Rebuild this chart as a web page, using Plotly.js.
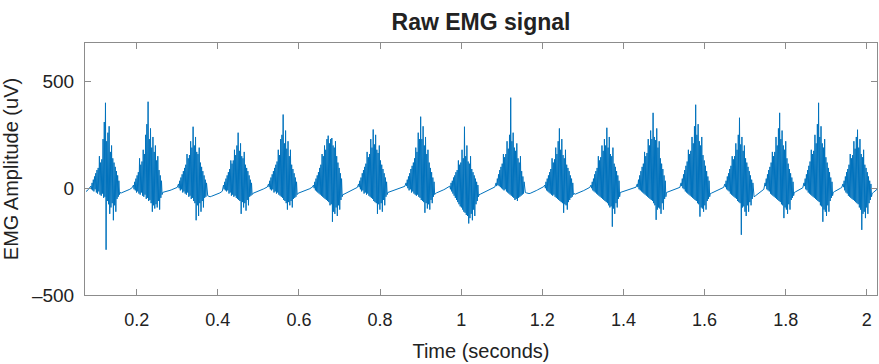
<!DOCTYPE html>
<html>
<head>
<meta charset="utf-8">
<script src="https://cdn.plot.ly/plotly-3.0.1.min.js"></script>
<style>
html,body{margin:0;padding:0;background:#fff;}
#chart{width:879px;height:364px;}
</style>
</head>
<body>
<div id="chart"></div>
<script>
// Sampling of the recording (seconds)
const startTime = 0.075;
const quietStep = 0.003;   // spacing of samples in quiet stretches
const burstStep = 0.0015;  // spacing of samples inside muscle bursts

// Amplitude samples (uV), in time order:
// quiet stretches (lead, q..) and muscle bursts (b..)
const lead = [-15, -12, -5, 5];
const b01 = [10, -5, 25, -10, 40, -15, 55, -5, 70, -20, 85, -25, 95, -15, 150, -30, 120, -35, 135, -25, 230, -45, 310, -40, 400, -288, 220, -60, 260, -75, 290, -120, 170, -90, 200, -70, 140, -150, 120, -80, 100, -110, 80, -50, 60, -40, 35, -30];
const q01 = [-20, -22, -20, -18, -16, -14, -12, -9, -5, -1, 3];
const b02 = [15, -5, 30, -10, 45, -20, 60, -15, 75, -25, 140, -30, 110, -20, 125, -35, 180, -40, 160, -30, 250, -50, 300, -45, 405, -60, 230, -55, 280, -70, 190, -110, 240, -80, 170, -95, 200, -75, 130, -90, 150, -60, 85, -100, 60, -45, 35, -30];
const q02 = [-20, -18, -17, -15, -14, -12, -10, -8, -6, -4, -2, 1, 4];
const b03 = [20, 0, 35, -10, 50, -5, 65, -20, 80, -15, 95, -25, 110, -30, 160, -20, 140, -40, 155, -35, 220, -50, 190, -45, 288, -60, 200, -70, 240, -150, 170, -80, 160, -130, 190, -70, 120, -110, 100, -60, 80, -90, 60, -45, 40, -40, 25, -35];
const q03 = [-35, -38, -40, -38, -36, -35, -33, -30, -28, -25, -22, -18, -14];
const b04 = [15, -5, 30, -10, 45, -15, 60, -10, 75, -25, 90, -20, 130, -35, 115, -30, 130, -40, 180, -35, 155, -45, 200, -50, 260, -55, 175, -60, 210, -120, 150, -65, 140, -90, 170, -70, 110, -105, 95, -55, 80, -80, 60, -40, 40, -35, 25, -30];
const q04 = [-25, -22, -20, -18, -15, -12, -10, -8, -6, -3, 0, 3, 6];
const b05 = [20, 5, 35, -5, 50, -10, 65, -5, 80, -20, 95, -15, 110, -25, 125, -20, 180, -30, 155, -35, 230, -40, 250, -45, 345, -55, 210, -60, 270, -70, 185, -100, 220, -65, 150, -80, 180, -60, 110, -90, 90, -50, 70, -45, 50, -40, 30, -30];
const q05 = [-25, -22, -20, -18, -17, -15, -12, -10, -8, -5, -2, 2, 5];
const b06 = [15, 0, 30, -10, 45, -15, 60, -20, 75, -25, 95, -30, 110, -35, 160, -40, 150, -45, 200, -50, 180, -55, 230, -60, 246, -65, 210, -80, 230, -75, 235, -157, 200, -110, 190, -120, 220, -90, 150, -130, 120, -80, 95, -100, 70, -55, 45, -40];
const q06 = [-30, -28, -25, -22, -20, -18, -15, -12, -10, -6, -3, 0, 4];
const b07 = [20, 5, 35, -5, 50, -15, 70, -10, 85, -25, 100, -20, 115, -30, 170, -25, 145, -35, 160, -40, 230, -45, 190, -50, 275, -60, 205, -65, 250, -70, 180, -120, 165, -75, 200, -100, 130, -70, 110, -110, 90, -55, 70, -80, 50, -40, 30, -30];
const q07 = [-20, -18, -16, -15, -13, -12, -10, -8, -6, -4, -2, 0, 3, 6, 9];
const b08 = [25, 10, 40, 0, 55, -10, 70, -5, 90, -20, 105, -15, 120, -25, 140, -30, 190, -35, 170, -30, 260, -40, 230, -45, 335, -55, 230, -60, 290, -65, 200, -115, 240, -70, 160, -95, 180, -75, 120, -100, 95, -55, 75, -70, 50, -40, 30, -30];
const q08 = [-25, -22, -20, -17, -15, -12, -10, -7, -4, -1, 2, 5];
const b09 = [10, -5, 25, -15, 35, -25, 50, -35, 60, -45, 75, -55, 85, -65, 130, -75, 110, -85, 120, -90, 180, -100, 140, -110, 288, -115, 150, -125, 200, -130, 125, -165, 115, -140, 150, -120, 90, -150, 75, -100, 60, -130, 45, -75, 30, -60, 15, -40];
const q09 = [-30, -28, -25, -23, -20, -18, -15, -12, -10, -7, -4, -1, 3, 6];
const b10 = [25, 10, 45, 15, 65, 10, 85, 5, 100, 0, 115, -5, 160, -10, 145, -5, 160, -15, 220, -20, 185, -25, 250, -30, 424, -35, 220, -40, 260, -45, 190, -55, 175, -50, 210, -60, 140, -45, 120, -40, 150, -35, 80, -30, 55, -25, 30, -20];
const q10 = [-20, -22, -24, -25, -24, -22, -20, -17, -14, -11, -8, -5, -2, 1, 4, 7];
const b11 = [15, 0, 30, -10, 45, -15, 60, -20, 75, -25, 90, -30, 140, -35, 120, -30, 135, -40, 190, -45, 160, -50, 220, -55, 280, -60, 180, -65, 230, -70, 155, -115, 140, -75, 180, -80, 110, -100, 95, -65, 80, -55, 60, -45, 45, -40, 25, -30];
const q11 = [-25, -28, -26, -24, -22, -20, -17, -14, -11, -8, -5, -2, 1, 4];
const b12 = [15, 0, 30, -10, 45, -15, 65, -20, 80, -25, 95, -30, 150, -35, 130, -40, 145, -45, 200, -50, 175, -55, 230, -60, 200, -65, 283, -70, 190, -80, 240, -90, 160, -85, 150, -180, 190, -95, 115, -120, 100, -70, 80, -90, 60, -50, 35, -40];
const q12 = [-20, -18, -16, -14, -12, -10, -8, -7, -5, -3, -1, 1, 3, 5];
const b13 = [20, 5, 40, -5, 60, -10, 80, -15, 100, -20, 115, -25, 170, -30, 150, -35, 165, -40, 230, -45, 200, -50, 270, -55, 230, -60, 353, -70, 240, -80, 225, -148, 280, -100, 190, -90, 220, -95, 140, -120, 115, -70, 90, -100, 60, -50, 35, -40];
const q13 = [-20, -18, -15, -12, -10, -8, -6, -4, -2, 0, 2, 4];
const b14 = [25, 10, 45, 0, 65, -5, 85, -15, 105, -20, 125, -25, 180, -30, 160, -35, 175, -40, 240, -45, 210, -50, 290, -55, 391, -60, 250, -70, 300, -75, 220, -133, 200, -90, 240, -95, 155, -110, 130, -80, 105, -100, 80, -60, 55, -50, 35, -40];
const q14 = [-25, -23, -20, -18, -15, -12, -10, -8, -5, -2, 1, 4];
const b15 = [20, 5, 35, -5, 55, -10, 70, -15, 90, -25, 105, -30, 150, -35, 135, -40, 150, -45, 210, -50, 180, -60, 250, -65, 330, -70, 205, -218, 240, -90, 175, -85, 200, -110, 140, -130, 120, -80, 100, -110, 80, -65, 60, -80, 40, -50, 25, -40];
const q15 = [-40, -36, -32, -28, -24, -20, -15, -10, -5];
const b16 = [25, 10, 45, -5, 65, -10, 85, -15, 100, -25, 120, -30, 170, -35, 150, -40, 170, -45, 240, -50, 200, -55, 280, -60, 353, -65, 230, -75, 270, -80, 200, -140, 180, -90, 220, -100, 140, -120, 115, -75, 90, -100, 70, -55, 50, -45, 30, -35];
const q16 = [-20, -17, -14, -11, -8, -5, -2, 2];
const b17 = [25, 10, 45, -5, 65, -10, 85, -20, 105, -25, 125, -30, 180, -35, 160, -40, 175, -45, 250, -50, 210, -55, 300, -60, 400, -65, 240, -80, 290, -85, 210, -157, 190, -100, 230, -110, 145, -130, 120, -80, 95, -110, 75, -60, 50, -45, 30, -35];
const q17 = [-20, -16, -12, -9, -6, -3, 0, 3];
const b18 = [20, 5, 35, -10, 55, -20, 75, -25, 90, -35, 110, -40, 160, -45, 140, -50, 155, -55, 220, -60, 185, -65, 240, -70, 274, -75, 190, -90, 230, -100, 160, -195, 145, -120, 180, -110, 110, -140, 95, -90, 75, -120, 55, -70, 35, -55, 20, -40];
const q18 = [-25, -20, -15, -10, -5];

// Axis ticks
const xTicks = [0.2, 0.4, 0.6, 0.8, 1, 1.2, 1.4, 1.6, 1.8, 2];
const xTickLabels = ['0.2', '0.4', '0.6', '0.8', '1', '1.2', '1.4', '1.6', '1.8', '2'];
const yTicks = [-500, 0, 500];
const yTickLabels = ['\u2013500', '0', '500'];

// Assemble the recording in time order
const quietParts = [lead, q01, q02, q03, q04, q05, q06, q07, q08, q09, q10, q11, q12, q13, q14, q15, q16, q17, q18];
const burstParts = [b01, b02, b03, b04, b05, b06, b07, b08, b09, b10, b11, b12, b13, b14, b15, b16, b17, b18];
const time = [];
const amplitude = [];
let t = startTime;
function addPart(values, step) {
  values.forEach(v => { time.push(t); amplitude.push(v); t += step; });
}
for (let k = 0; k < quietParts.length; k++) {
  addPart(quietParts[k], quietStep);
  if (k < burstParts.length) addPart(burstParts[k], burstStep);
}

const FONT = 'Liberation Sans, Arial, Helvetica, sans-serif';
const frame = '#8c8c8c';

const trace = {
  x: time, y: amplitude, type: 'scatter', mode: 'lines',
  line: {color: '#0072BD', width: 1},
  hoverinfo: 'skip'
};

const layout = {
  width: 879, height: 364,
  margin: {l: 85, r: 2, t: 43, b: 69},
  paper_bgcolor: '#ffffff', plot_bgcolor: '#ffffff',
  showlegend: false,
  font: {family: FONT, color: '#222222', size: 18},
  title: {
    text: '<b>Raw EMG signal</b>',
    font: {family: FONT, size: 23, color: '#222222'},
    x: 0.5, xanchor: 'center', xref: 'paper',
    y: 0.94, yanchor: 'middle', yref: 'container'
  },
  xaxis: {
    range: [0.0725, 2.025],
    tickmode: 'array', tickvals: xTicks, ticktext: xTickLabels,
    ticks: 'inside', ticklen: 6, tickwidth: 1, tickcolor: frame,
    showline: true, linecolor: frame, linewidth: 1, mirror: 'ticks',
    showgrid: false, zeroline: false,
    tickfont: {family: FONT, size: 18, color: '#222222'},
    ticklabelstandoff: 8,
    title: {text: 'Time (seconds)', font: {family: FONT, size: 20, color: '#222222'}, standoff: 15}
  },
  yaxis: {
    range: [-500, 680],
    tickmode: 'array', tickvals: yTicks, ticktext: yTickLabels,
    ticks: 'inside', ticklen: 6, tickwidth: 1, tickcolor: frame,
    showline: true, linecolor: frame, linewidth: 1, mirror: 'ticks',
    showgrid: false, zeroline: false,
    tickfont: {family: FONT, size: 19, color: '#222222'},
    ticklabelstandoff: 6,
    title: {text: 'EMG Amplitude (uV)', font: {family: FONT, size: 20, color: '#222222'}, standoff: 8}
  }
};

Plotly.newPlot('chart', [trace], layout, {displayModeBar: false, staticPlot: true});
</script>
</body>
</html>
